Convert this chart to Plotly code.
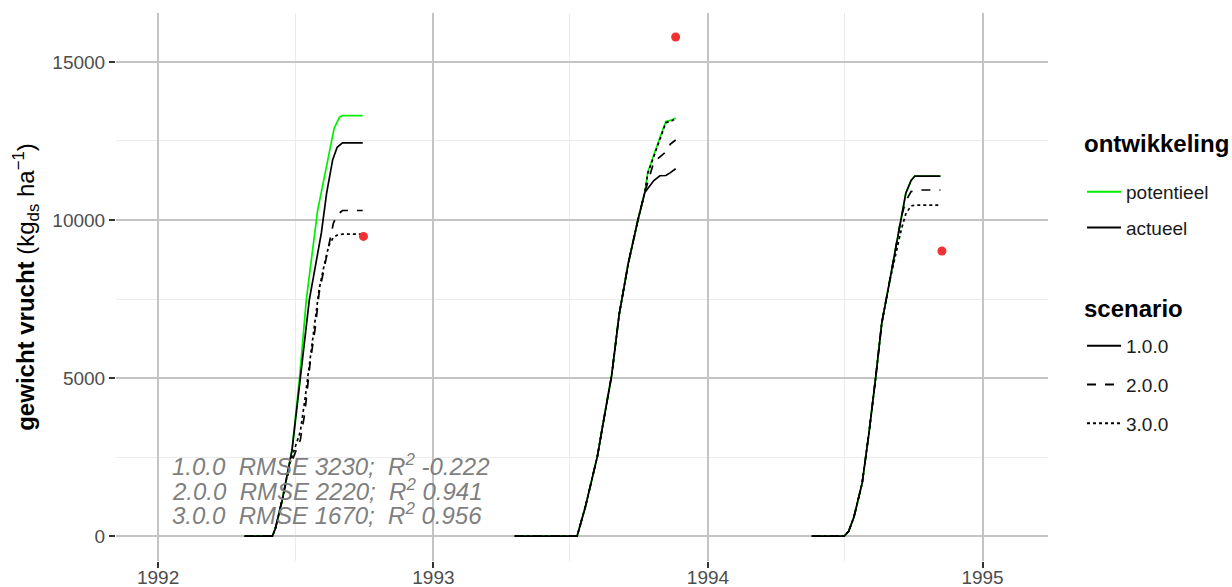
import plotly.graph_objects as go

# ---------------- data ----------------
# scenario 1.0.0 - potentieel
pot1_dates = ["1992-04-25","1992-06-01","1992-06-05","1992-06-14","1992-06-27","1992-07-07","1992-07-16","1992-07-31","1992-08-13","1992-08-22","1992-08-29","1992-09-02","1992-09-29",
              None,
              "1993-04-19","1993-07-11","1993-07-22","1993-08-07","1993-08-14","1993-08-26","1993-09-05","1993-09-17","1993-09-30","1993-10-09","1993-10-13","1993-10-22","1993-10-29","1993-11-06","1993-11-12","1993-11-19",
              None,
              "1994-05-19","1994-07-01","1994-07-07","1994-07-14","1994-07-25","1994-08-03","1994-08-12","1994-08-20","1994-08-30","1994-09-08","1994-09-15","1994-09-21","1994-09-28","1994-10-03","1994-11-06"]
pot1_vals = [0,0,250,1140,2720,5000,7470,10300,11830,12900,13250,13300,13300,
             None,
             0,0,924,2528,3490,5095,7022,8627,10016,10873,11516,12158,12600,13120,13150,13228,
             None,
             0,0,150,600,1680,3260,5030,6740,8000,9150,10100,10850,11250,11390,11390]

# scenario 1.0.0 - actueel
act1_dates = ["1992-04-25","1992-06-01","1992-06-05","1992-06-14","1992-06-27","1992-07-07","1992-07-20","1992-08-05","1992-08-12","1992-08-20","1992-08-26","1992-09-02","1992-09-29",
              None,
              "1993-04-19","1993-07-11","1993-07-22","1993-08-07","1993-08-14","1993-08-26","1993-09-05","1993-09-17","1993-09-30","1993-10-09","1993-10-13","1993-10-21","1993-10-29","1993-11-06","1993-11-12","1993-11-19",
              None,
              "1994-05-19","1994-07-01","1994-07-07","1994-07-14","1994-07-25","1994-08-03","1994-08-12","1994-08-20","1994-08-30","1994-09-08","1994-09-15","1994-09-21","1994-09-28","1994-10-03","1994-11-06"]
act1_vals = [0,0,250,1140,2720,4840,7470,9590,10850,11900,12300,12440,12440,
             None,
             0,0,924,2528,3490,5095,7022,8627,10016,10873,11000,11247,11400,11408,11500,11623,
             None,
             0,0,150,600,1680,3260,5030,6740,8000,9150,10100,10850,11250,11390,11390]

# scenario 2.0.0 - actueel
act2_dates = ["1992-04-25","1992-06-01","1992-06-05","1992-06-14","1992-06-24","1992-07-08","1992-07-14","1992-07-21","1992-07-28","1992-08-02","1992-08-09","1992-08-17","1992-08-21","1992-08-26","1992-09-02","1992-09-29",
              None,
              "1993-04-19","1993-07-11","1993-07-22","1993-08-07","1993-08-14","1993-08-26","1993-09-05","1993-09-17","1993-09-30","1993-10-09","1993-10-21","1993-10-29","1993-11-06","1993-11-12","1993-11-19",
              None,
              "1994-05-19","1994-07-01","1994-07-07","1994-07-14","1994-07-25","1994-08-03","1994-08-12","1994-08-20","1994-08-30","1994-09-08","1994-09-15","1994-09-21","1994-09-28","1994-10-08","1994-11-06"]
act2_vals = [0,0,250,1140,2200,3040,3890,5470,6610,7690,8510,9460,9900,10160,10300,10300,
             None,
             0,0,924,2528,3490,5095,7022,8627,10016,10873,11835,12000,12158,12400,12532,
             None,
             0,0,150,600,1680,3260,5030,6740,8000,9150,10100,10600,10900,10950,10950]

# scenario 3.0.0 - actueel
act3_dates = ["1992-04-25","1992-06-01","1992-06-05","1992-06-14","1992-06-24","1992-07-08","1992-07-14","1992-07-21","1992-07-28","1992-08-02","1992-08-09","1992-08-15","1992-08-21","1992-08-26","1992-09-02","1992-09-29",
              None,
              "1993-04-19","1993-07-11","1993-07-22","1993-08-07","1993-08-14","1993-08-26","1993-09-05","1993-09-17","1993-09-30","1993-10-09","1993-10-13","1993-10-22","1993-10-29","1993-11-06","1993-11-12","1993-11-19",
              None,
              "1994-05-19","1994-07-01","1994-07-07","1994-07-14","1994-07-25","1994-08-03","1994-08-12","1994-08-20","1994-08-30","1994-09-08","1994-09-15","1994-09-21","1994-09-28","1994-10-06","1994-11-06"]
act3_vals = [0,0,250,1140,2300,3300,4300,5600,6800,7800,8600,9200,9450,9520,9550,9550,
             None,
             0,0,924,2528,3490,5095,7022,8627,10016,10873,11480,12100,12550,13080,13120,13200,
             None,
             0,0,150,600,1680,3260,5030,6740,8000,9000,9700,10200,10450,10470,10470]

# measurements
obs_dates = ["1992-09-30", "1993-11-19", "1994-11-08"]
obs_vals = [9480, 15790, 9020]

stat_labels = ["1.0.0", "2.0.0", "3.0.0"]
stat_rmse = ["3230", "2220", "1670"]
stat_r2 = ["-0.222", "0.941", "0.956"]

ontw_labels = ["potentieel", "actueel"]
ontw_colors = ["#00ee00", "#000000"]
scen_labels = ["1.0.0", "2.0.0", "3.0.0"]
scen_dash = ["solid", "dash", "dot"]

# ---------------- figure ----------------
fig = go.Figure()
LW = 1.7

fig.add_trace(go.Scatter(x=pot1_dates, y=pot1_vals, mode="lines", connectgaps=False,
                         line=dict(color=ontw_colors[0], width=LW, dash="solid"), showlegend=False))
for d, v, dash in [(act1_dates, act1_vals, "solid"), (act2_dates, act2_vals, "dash"), (act3_dates, act3_vals, "dot")]:
    fig.add_trace(go.Scatter(x=d, y=v, mode="lines", connectgaps=False,
                             line=dict(color="#000000", width=LW, dash=dash), showlegend=False))

fig.add_trace(go.Scatter(x=obs_dates, y=obs_vals, mode="markers",
                         marker=dict(color="#f03232", size=9), showlegend=False))

# legend entries
for i, (lab, col) in enumerate(zip(ontw_labels, ontw_colors)):
    fig.add_trace(go.Scatter(x=[None], y=[None], mode="lines", name=lab,
                             line=dict(color=col, width=2), legend="legend",
                             legendgroup="o%d" % i, showlegend=True))
for i, (lab, dash) in enumerate(zip(scen_labels, scen_dash)):
    fig.add_trace(go.Scatter(x=[None], y=[None], mode="lines", name=lab,
                             line=dict(color="#000000", width=2, dash=dash), legend="legend2",
                             legendgroup="s%d" % i, showlegend=True))

FONT = "Liberation Sans, Arial, sans-serif"

# legend titles
fig.add_annotation(xref="paper", yref="paper", x=1.0365, y=0.761, xanchor="left", yanchor="middle",
                   text="<b>ontwikkeling</b>", showarrow=False,
                   font=dict(family=FONT, size=24, color="#000000"))
fig.add_annotation(xref="paper", yref="paper", x=1.0365, y=0.460, xanchor="left", yanchor="middle",
                   text="<b>scenario</b>", showarrow=False,
                   font=dict(family=FONT, size=24, color="#000000"))

# statistics annotations
ys = [0.175, 0.130, 0.086]
for i in range(3):
    fig.add_annotation(
        xref="paper", yref="paper", x=0.058, y=ys[i], xanchor="left", yanchor="middle",
        text="<i>%s  RMSE %s;  R<sup>2</sup> %s</i>" % (stat_labels[i], stat_rmse[i], stat_r2[i]),
        showarrow=False, font=dict(family=FONT, size=24, color="#7f7f7f"))

grid_major = "#c4c4c4"
grid_minor = "#ececec"

fig.update_layout(
    width=1232, height=587,
    margin=dict(l=116, r=184, t=13, b=26),
    plot_bgcolor="white", paper_bgcolor="white",
    font=dict(family=FONT, color="#000000"),
    xaxis=dict(type="date", range=["1991-11-06", "1995-03-29"], automargin=False,
               tick0="1992-01-01", dtick="M12", tickformat="%Y",
               showgrid=True, gridcolor=grid_major, gridwidth=1.5,
               ticks="outside", ticklen=6, tickwidth=1.5, tickcolor="#333333",
               ticklabelstandoff=-7,
               tickfont=dict(size=19, color="#4d4d4d"),
               minor=dict(dtick="M6", tick0="1992-01-01", showgrid=True, gridcolor=grid_minor, gridwidth=1),
               zeroline=False, showline=False),
    yaxis=dict(range=[-790, 16550], tick0=0, dtick=5000, tickformat="d", automargin=False,
               showgrid=True, gridcolor=grid_major, gridwidth=1.5,
               ticks="outside", ticklen=6, tickwidth=1.5, tickcolor="#333333",
               tickfont=dict(size=19, color="#4d4d4d"),
               minor=dict(dtick=2500, showgrid=True, gridcolor=grid_minor, gridwidth=1),
               zeroline=False, showline=False,
               title=dict(text="<b>gewicht vrucht</b> (kg<sub>ds</sub> ha<sup>\u22121</sup>)",
                          font=dict(size=24, color="#000000"), standoff=10)),
    legend=dict(x=1.0365, xanchor="left", y=0.708, yanchor="top",
                font=dict(size=19, color="#1a1a1a"), tracegroupgap=8, itemwidth=34,
                bgcolor="rgba(0,0,0,0)"),
    legend2=dict(x=1.0365, xanchor="left", y=0.427, yanchor="top",
                 font=dict(size=19, color="#1a1a1a"), tracegroupgap=11, itemwidth=34,
                 bgcolor="rgba(0,0,0,0)"),
)

fig.write_html("out.html")
